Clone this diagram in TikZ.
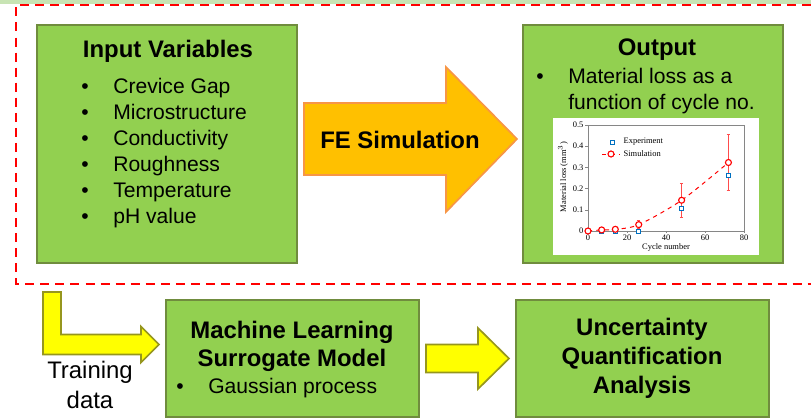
\documentclass[tikz,border=0pt]{standalone}
\usepackage{fontspec}
\setmainfont{Liberation Sans}
\newfontfamily\plotfont{Liberation Serif}
\usetikzlibrary{calc}
\definecolor{boxgreen}{RGB}{146,208,80}
\definecolor{boxedge}{RGB}{112,140,62}
\definecolor{feorange}{RGB}{255,192,0}
\definecolor{feedge}{RGB}{247,150,70}
\definecolor{arrowyellow}{RGB}{255,255,0}
\definecolor{arrowedge}{RGB}{150,150,30}
\definecolor{dashred}{RGB}{255,0,0}
\definecolor{stripgreen}{RGB}{200,228,180}
\definecolor{expblue}{RGB}{0,112,192}
\definecolor{simred}{RGB}{255,0,0}
\definecolor{framegray}{RGB}{134,134,134}

\tikzset{
  greenbox/.style={draw=boxedge, fill=boxgreen, line width=1.4pt, inner sep=0pt},
  boxtitle/.style={font=\fontsize{17}{20.6}\selectfont\bfseries, align=center, inner sep=0pt},
  bodytext/.style={font=\fontsize{15}{18}\selectfont, inner sep=0pt, text height=11pt, text depth=3pt},
  bullet/.style={font=\fontsize{15}{18}\selectfont, inner sep=0pt, text height=11pt, text depth=3pt},
  fearrow/.style={draw=feedge, fill=feorange, line width=1.2pt},
  yellowarrow/.style={draw=arrowedge, fill=arrowyellow, line width=1.2pt},
  ticklabel/.style={font=\plotfont\fontsize{6}{7}\selectfont, inner sep=1pt},
  simmark/.style={circle, draw=simred, fill=white, line width=0.8pt, inner sep=0pt, minimum size=0.15cm},
  expmark/.style={rectangle, draw=expblue, fill=white, line width=0.7pt, inner sep=0pt, minimum size=0.1cm},
}

\begin{document}
\begin{tikzpicture}[x=0.025cm, y=-0.025cm]
\useasboundingbox (0,0) rectangle (811,418);

% Top strip and simulation frame
\fill[stripgreen] (0,0) rectangle (811,4);
\draw[dashred, line width=1.8pt, dash pattern=on 6.4pt off 4.3pt] (811,5) -- (16,5) -- (16,284) -- (811,284);

% Boxes
\node[greenbox, minimum width=6.5cm, minimum height=5.95cm] (inbox) at (167,144) {};
\node[greenbox, minimum width=6.5cm, minimum height=5.95cm] (outbox) at (653,144) {};
\node[greenbox, minimum width=6.325cm, minimum height=2.925cm] (mlbox) at (292.5,358.5) {};
\node[greenbox, minimum width=6.325cm, minimum height=2.925cm] (uqbox) at (642.5,358.5) {};

% Input variables
\node[boxtitle] (intitle) at (168,51) {Input Variables};
\foreach \txt [count=\i] in {Crevice Gap, Microstructure, Conductivity, Roughness, Temperature, pH value} {
  \node[bullet] (inb\i) at (85,62+26*\i) {\textbullet};
  \node[bodytext, anchor=west] (inv\i) at (113,62+26*\i) {\txt};
}

% FE simulation arrow
\coordinate (fes) at ($(inbox.east)+(6,-5)$);
\coordinate (fet) at ($(outbox.west)+(-5,-5)$);
\draw[fearrow] ($(fes)+(0,-36)$) -- ($(fet)+(-71,-36)$) -- ($(fet)+(-71,-72)$) -- (fet)
  -- ($(fet)+(-71,73)$) -- ($(fet)+(-71,36)$) -- ($(fes)+(0,36)$) -- cycle;
\node[boxtitle] (fetext) at (400,140) {FE Simulation};

% Output
\node[boxtitle] (outtitle) at (657,50) {Output};
\node[bullet] (outb) at (540,78) {\textbullet};
\node[bodytext, anchor=west] (outl1) at (568,78) {Material loss as a};
\node[bodytext, anchor=west] (outl2) at (568,104) {function of cycle no.};

% Material loss plot
\fill[white] (553,118) rectangle (759,255);
\begin{scope}[shift={(588,231)}]
\begin{scope}[x=0.04875cm, y=5.3cm]
  \draw[framegray, line width=0.5pt] (0,0) rectangle (80,0.5);
  \foreach \v [count=\i] in {0,0.1,0.2,0.3,0.4,0.5} {
    \draw[framegray, line width=0.4pt] (-1.3,\v) -- (0,\v);
    \node[ticklabel, anchor=east] (yt\i) at (-1.5,\v) {\v};
  }
  \foreach \c [count=\i] in {0,20,40,60,80} {
    \draw[framegray, line width=0.4pt] (\c,0) -- (\c,-0.01);
    \node[ticklabel, anchor=north] (xt\i) at (\c,-0.012) {\c};
  }
  \node[ticklabel] (xlab) at (40,-0.08) {Cycle number};
  \node[ticklabel, rotate=90] (ylab) at (-12.8,0.255) {Material loss (mm$^3$)};
  % error bars
  \foreach \c/\lo/\hi in {26/0.011/0.05, 48/0.066/0.224, 72/0.192/0.456} {
    \draw[simred!70, line width=0.6pt] (\c,\lo) -- (\c,\hi);
    \draw[simred!70, line width=0.6pt] (\c-0.9,\lo) -- (\c+0.9,\lo);
    \draw[simred!70, line width=0.6pt] (\c-0.9,\hi) -- (\c+0.9,\hi);
  }
  \draw[simred, dashed, line width=0.7pt] plot[smooth, tension=0.5] coordinates {(0,0) (7,0.005) (14,0.008) (26,0.03) (48,0.145) (72,0.323)};
  \foreach \c/\v [count=\i] in {7/0, 14/0, 26/0, 48/0.106, 72/0.262}
    \node[expmark] (exp\i) at (\c,\v) {};
  \foreach \c/\v [count=\i] in {0/0, 7/0.005, 14/0.008, 26/0.03, 48/0.145, 72/0.323}
    \node[simmark] (sim\i) at (\c,\v) {};
\end{scope}
\end{scope}

% Legend
\node[expmark] (legexp) at (612,142) {};
\node[ticklabel, anchor=west] (legexptext) at (622,142) {Experiment};
\draw[simred, dashed, line width=0.7pt] (602,154) -- (620,154);
\node[simmark] (legsim) at (611,154) {};
\node[ticklabel, anchor=west] (legsimtext) at (622,154) {Simulation};

% Training arrow
\coordinate (trtop) at (43,292);
\coordinate (trtip) at ($(mlbox.west)+(-6,-14)$);
\draw[yellowarrow] (trtop) -- ++(18,0) |- ($(trtip)+(-18,-10)$) -- ++(0,-8) -- (trtip)
  -- ++(-18,18) -- ++(0,-8) -| (trtop) -- cycle;
\node[font=\fontsize{17}{21.3}\selectfont, align=center, inner sep=0pt] (trdata) at (90,385) {Training\\data};

% Machine learning
\node[boxtitle, font=\fontsize{17}{19.9}\selectfont\bfseries] (mltitle) at (292,346) {Machine Learning\\Surrogate Model};
\node[bullet] (mlb) at (180,388) {\textbullet};
\node[bodytext, anchor=west] (mlgp) at (208,388) {Gaussian process};

% Surrogate to UQ arrow
\coordinate (mls) at ($(mlbox.east)+(6,0)$);
\coordinate (mlt) at ($(uqbox.west)+(-6,0)$);
\draw[yellowarrow] ($(mls)+(0,-14)$) -- ($(mlt)+(-31,-14)$) -- ($(mlt)+(-31,-30.5)$) -- (mlt)
  -- ($(mlt)+(-31,30.5)$) -- ($(mlt)+(-31,14)$) -- ($(mls)+(0,14)$) -- cycle;

% Uncertainty quantification
\node[boxtitle] (uqtitle) at (642,358) {Uncertainty\\Quantification\\Analysis};
\end{tikzpicture}
\end{document}
